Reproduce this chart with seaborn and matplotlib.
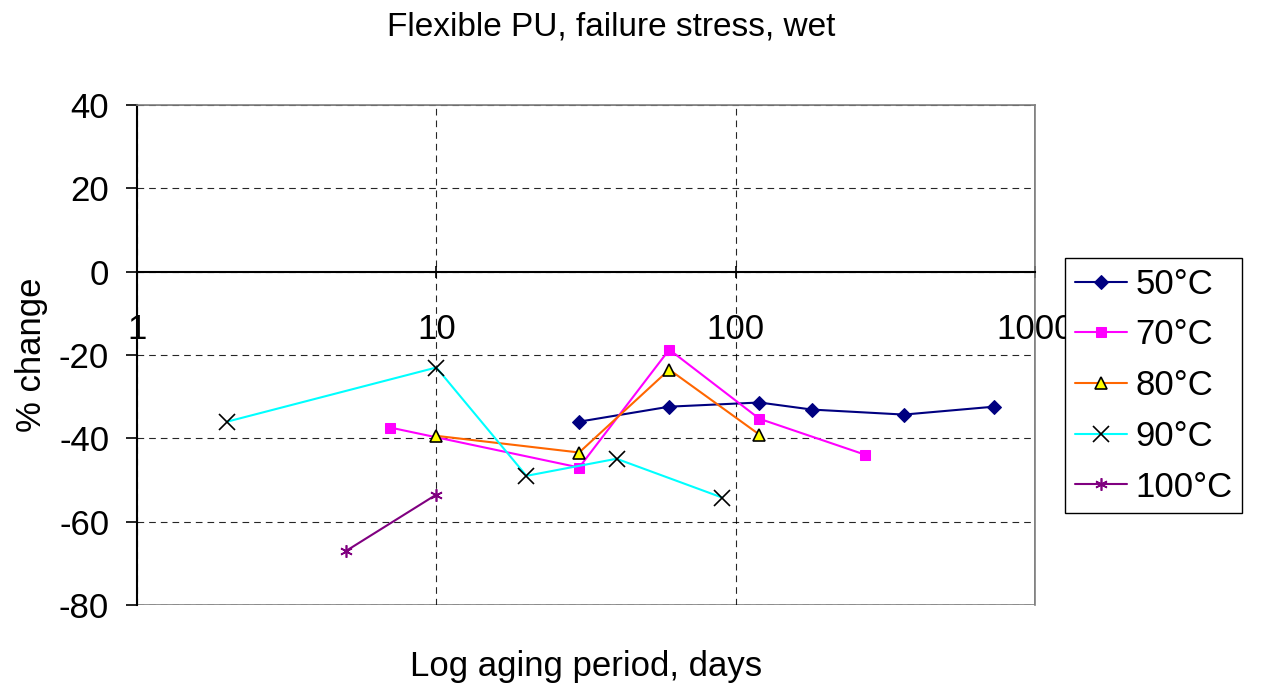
import matplotlib
matplotlib.use("Agg")
import matplotlib.pyplot as plt
import seaborn as sns
import pandas as pd

# data
days_50 = [30, 60, 120, 180, 365, 730]
chg_50 = [-36.0, -32.4, -31.4, -33.1, -34.3, -32.4]

days_70 = [7, 30, 60, 120, 270]
chg_70 = [-37.4, -47.0, -18.7, -35.3, -43.9]

days_80 = [10, 30, 60, 120]
chg_80 = [-39.4, -43.4, -23.5, -39.1]

days_90 = [2, 10, 20, 40, 90]
chg_90 = [-36.0, -23.0, -49.0, -44.9, -54.2]

days_100 = [5, 10]
chg_100 = [-67.0, -53.5]

series = [
    ("50°C", days_50, chg_50, dict(color="#000080", marker="D", markersize=7,
                                    markerfacecolor="#000080", markeredgecolor="#000080")),
    ("70°C", days_70, chg_70, dict(color="#ff00ff", marker="s", markersize=7,
                                    markerfacecolor="#ff00ff", markeredgecolor="#ff00ff")),
    ("80°C", days_80, chg_80, dict(color="#ff6600", marker="^", markersize=8,
                                    markerfacecolor="#ffff00", markeredgecolor="black",
                                    markeredgewidth=1.2)),
    ("90°C", days_90, chg_90, dict(color="#00ffff", marker="x", markersize=12,
                                    markeredgecolor="black", markeredgewidth=1.2)),
    ("100°C", days_100, chg_100, dict(color="#800080", marker=(6, 2, 0), markersize=9,
                                      markeredgecolor="#800080", markeredgewidth=1.2)),
]

sns.set_style("white")
plt.rcParams['font.family'] = ['Liberation Sans', 'DejaVu Sans']
plt.rcParams['axes.unicode_minus'] = False
for k in ['text.color', 'axes.labelcolor', 'xtick.color', 'ytick.color']:
    plt.rcParams[k] = 'black'

fig = plt.figure(figsize=(12.67, 6.91), dpi=100)
ax = fig.add_axes([137/1267, 1 - 605/691, (1035-137)/1267, 500/691])

for name, xs, ys, st in series:
    df = pd.DataFrame({"days": xs, "change": ys})
    sns.lineplot(data=df, x="days", y="change", ax=ax, label=name,
                 linewidth=1.5, **st)

ax.set_xscale("log")
ax.set_xlim(1, 1000)
ax.set_ylim(-80, 40)
ax.set_yticks([-80, -60, -40, -20, 0, 20, 40])
ax.set_xticks([1, 10, 100, 1000])
ax.set_xticklabels(["1", "10", "100", "1000"])
ax.minorticks_off()

# grid
ax.grid(True, which="major", axis="both", color="black", linestyle=(0, (6, 4.5)),
        linewidth=0.8, alpha=0.85)

# spines: x axis crosses at 0, frame in gray
for s in ["top", "right"]:
    ax.spines[s].set_color("#808080")
    ax.spines[s].set_linewidth(1.2)
ax.spines["left"].set_color("black")
ax.spines["left"].set_linewidth(1.5)
ax.spines["bottom"].set_position(("data", 0))
ax.spines["bottom"].set_color("black")
ax.spines["bottom"].set_linewidth(1.5)
ax.add_patch(plt.Rectangle((0, 0), 1, 1, transform=ax.transAxes, fill=False,
                           edgecolor="#808080", linewidth=1.2, zorder=0.5))

ax.tick_params(axis="y", direction="out", length=8, width=1.2, color="black",
               labelsize=25, pad=12, left=True)
ax.tick_params(axis="x", direction="inout", length=8, width=1.2, color="black",
               labelsize=25, pad=26, bottom=True)

ax.set_ylabel("% change", fontsize=25, labelpad=8)
ax.set_xlabel("Log aging period, days", fontsize=25)
ax.xaxis.set_label_coords(0.5, -0.09)

fig.text(611/1267, 1 - 27/691, "Flexible PU, failure stress, wet", fontsize=24,
         ha="center", va="center")

leg = ax.legend(loc="upper left", bbox_to_anchor=(1065/1267, 1 - 258/691),
                bbox_transform=fig.transFigure, fontsize=25, frameon=True,
                fancybox=False, edgecolor="black", framealpha=1,
                handlelength=1.5, labelspacing=0.51, borderpad=0.28,
                handletextpad=0.25, borderaxespad=0)
leg.get_frame().set_linewidth(1.0)

fig.savefig("out.png", dpi=100)
